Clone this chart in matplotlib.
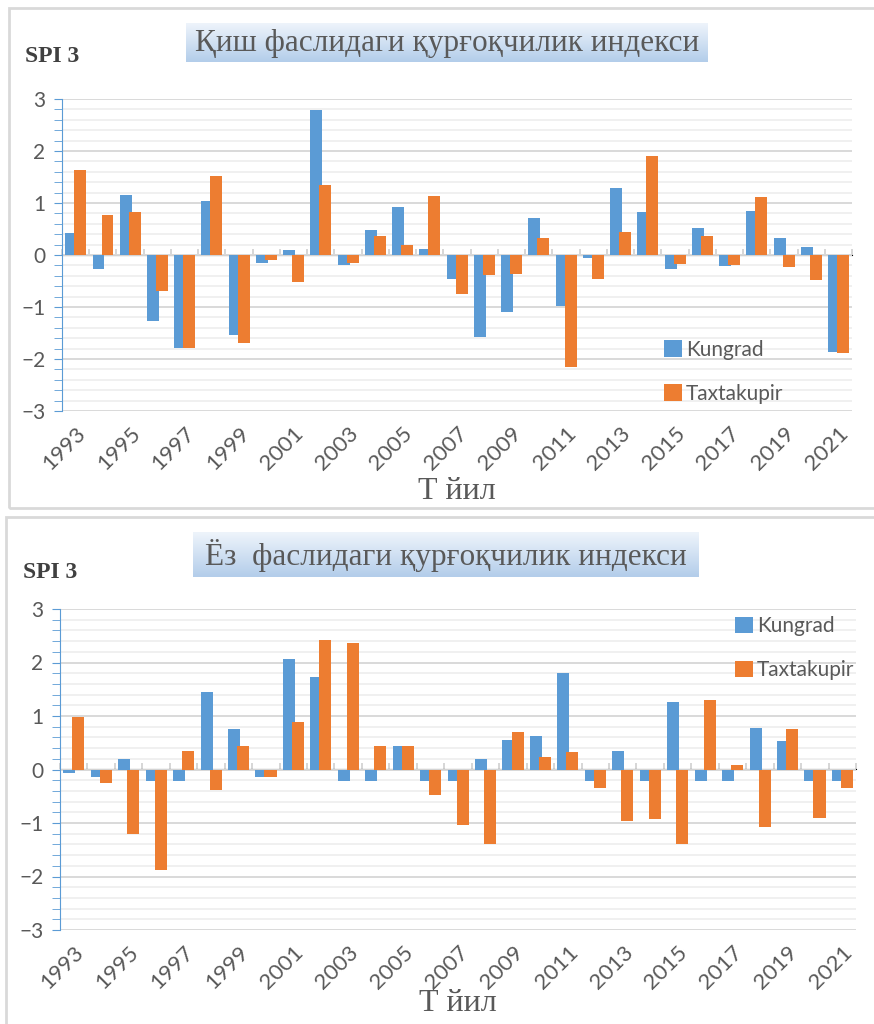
import matplotlib
matplotlib.use("Agg")
import matplotlib.pyplot as plt
import numpy as np
from matplotlib.patches import Rectangle
from matplotlib.ticker import MultipleLocator

years = list(range(1993, 2022))

# winter SPI 3
winter_kungrad = [0.43, -0.26, 1.16, -1.26, -1.78, 1.03, -1.53, -0.15, 0.09, 2.79,
                  -0.20, 0.49, 0.92, 0.11, -0.46, -1.58, -1.09, 0.71, -0.99, -0.06,
                  1.29, 0.82, -0.26, 0.52, -0.21, 0.84, 0.33, 0.16, -1.87]
winter_taxtakupir = [1.63, 0.76, 0.82, -0.69, -1.78, 1.51, -1.70, -0.10, -0.51, 1.35,
                     -0.15, 0.37, 0.20, 1.13, -0.75, -0.38, -0.37, 0.33, -2.16, -0.46,
                     0.44, 1.91, -0.17, 0.37, -0.20, 1.12, -0.24, -0.48, -1.89]

# summer SPI 3
summer_kungrad = [-0.06, -0.14, 0.20, -0.21, -0.21, 1.44, 0.75, -0.14, 2.06, 1.73,
                  -0.21, -0.21, 0.44, -0.21, -0.21, 0.20, 0.56, 0.62, 1.80, -0.21,
                  0.34, -0.21, 1.27, -0.21, -0.21, 0.78, 0.54, -0.21, -0.21]
summer_taxtakupir = [0.99, -0.26, -1.20, -1.87, 0.34, -0.39, 0.44, -0.14, 0.89, 2.42,
                     2.37, 0.44, 0.44, -0.47, -1.04, -1.39, 0.70, 0.23, 0.32, -0.35,
                     -0.97, -0.92, -1.39, 1.30, 0.08, -1.08, 0.75, -0.90, -0.35]

titles = ["Қиш фаслидаги қурғоқчилик индекси", "Ёз  фаслидаги қурғоқчилик индекси"]

BLUE = "#5b9bd5"
ORANGE = "#ed7d31"
GREY = "#595959"
W, H = 874, 1024

fig = plt.figure(figsize=(W / 100, H / 100), dpi=100)


def fig_rect(x0, y0, x1, y1):
    # pixel box (top-left origin) -> figure fraction [l, b, w, h]
    return [x0 / W, 1 - y1 / H, (x1 - x0) / W, (y1 - y0) / H]


def panel(box, ax_box, title_box, title, spi_xy, k_vals, t_vals, legend_anchor, xpad):
    fig.patches.append(Rectangle((box[0] / W, 1 - box[3] / H), (box[2] - box[0]) / W,
                                 (box[3] - box[1]) / H, transform=fig.transFigure,
                                 fill=False, edgecolor="#d9d9d9", lw=2))

    # title with gradient background
    tax = fig.add_axes(fig_rect(*title_box))
    grad = np.linspace(0, 1, 50).reshape(-1, 1)
    cmap = matplotlib.colors.LinearSegmentedColormap.from_list("g", ["#eef4fb", "#b3cdea"])
    tax.imshow(grad, aspect="auto", cmap=cmap, extent=[0, 1, 0, 1])
    tax.axis("off")
    tax.text(0.5, 0.47, title, ha="center", va="center", fontsize=22.5,
             family="Liberation Serif", color=GREY, transform=tax.transAxes)

    fig.text(spi_xy[0] / W, 1 - spi_xy[1] / H, "SPI 3", fontsize=17, fontweight="bold",
             family="Liberation Serif", color="#404040", va="center", ha="left")

    ax = fig.add_axes(fig_rect(*ax_box))
    x = np.arange(len(years))
    ax.bar(x - 0.16, k_vals, width=0.44, color=BLUE, label="Kungrad", zorder=3)
    ax.bar(x + 0.17, t_vals, width=0.44, color=ORANGE, label="Taxtakupir", zorder=4)
    ax.set_xlim(-0.5, len(years) - 0.5)
    ax.set_ylim(-3, 3)
    ax.yaxis.set_major_locator(MultipleLocator(1))
    ax.yaxis.set_minor_locator(MultipleLocator(0.2))
    ax.grid(axis="y", which="major", color="#d9d9d9", lw=1.4, zorder=0)
    ax.grid(axis="y", which="minor", color="#eeeeee", lw=1.2, zorder=0)
    for s in ["top", "right", "bottom"]:
        ax.spines[s].set_visible(False)
    ax.spines["left"].set_color(BLUE)
    ax.tick_params(axis="y", which="both", color=BLUE, length=6, labelsize=15,
                   labelcolor=GREY, pad=6)
    ax.set_xticks(x[::2])
    ax.set_xticklabels([str(y) for y in years[::2]], rotation=45, ha="right",
                       rotation_mode="anchor", fontsize=16, color=GREY)
    ax.tick_params(axis="x", length=0, pad=9)
    for lab in ax.get_yticklabels() + ax.get_xticklabels():
        lab.set_family("Lato")

    # zero line with category separators
    sec = ax.secondary_xaxis(0.5)
    sec.set_xticks(np.arange(-0.5, len(years), 1))
    sec.set_xticklabels([])
    sec.tick_params(length=4, color="#d0d0d0", width=1.2)
    sec.spines["bottom"].set_color("#d9d9d9")
    sec.spines["bottom"].set_linewidth(1.6)

    ax.set_xlabel("Т йил", fontsize=23, family="Liberation Serif", color=GREY, labelpad=xpad)

    ax.legend(loc="center left", bbox_to_anchor=legend_anchor, frameon=False,
              prop={"family": "Lato", "size": 15}, labelcolor=GREY,
              handlelength=0.85, handleheight=0.85, handletextpad=0.2,
              labelspacing=1.15, borderpad=0, borderaxespad=0)
    return ax


panel((9, 8, 900, 508), (62, 99, 852, 411), (186, 23, 708, 62), titles[0], (25, 57),
      winter_kungrad, winter_taxtakupir, (0.762, 0.125), 2)
panel((6, 517, 900, 1100), (60, 609, 856, 930), (193, 532, 699, 577), titles[1], (23, 573),
      summer_kungrad, summer_taxtakupir, (0.848, 0.878), -3)

fig.savefig("out.png", dpi=100)
